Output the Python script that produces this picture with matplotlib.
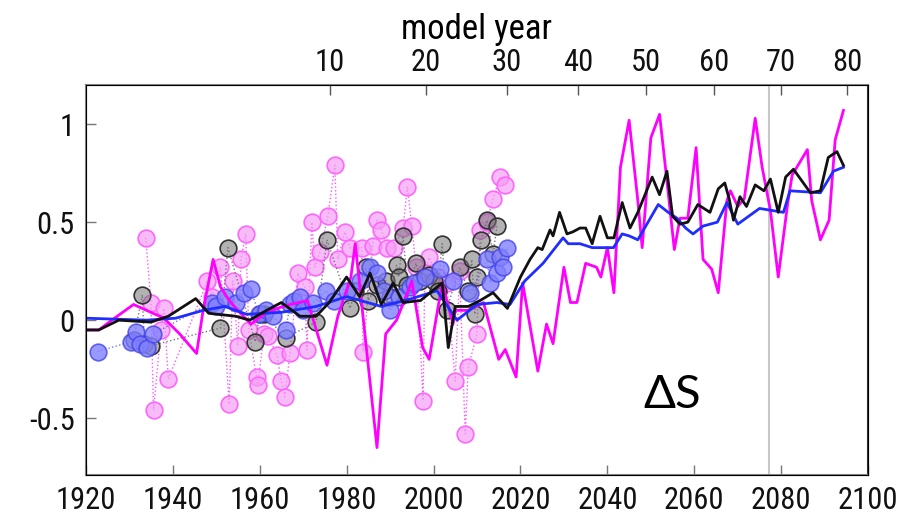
import numpy as np
import matplotlib
matplotlib.use('Agg')
import matplotlib.pyplot as plt
from matplotlib import font_manager

names = set(f.name for f in font_manager.fontManager.ttflist)
narrow = [n for n in ['Liberation Sans Narrow', 'DejaVu Sans Condensed', 'Roboto Condensed'] if n in names]
plt.rcParams['font.family'] = narrow + ['DejaVu Sans']
plt.rcParams['axes.unicode_minus'] = False

# model lines (calendar year, dS)
mag_yr = [1920, 1923, 1926, 1931, 1935, 1938, 1941.6, 1945.5, 1947, 1949.3, 1951, 1953, 1955,
          1958, 1961, 1964, 1967, 1969, 1971, 1975.5, 1978, 1981, 1982, 1987, 1989, 1991.5,
          1994, 1995, 1997.5, 1999, 2002, 2004.5, 2005, 2008, 2011.5, 2015, 2016.5, 2019,
          2020.5, 2024, 2026, 2027.5, 2030, 2031.5, 2033, 2035, 2037.5, 2038.5, 2040, 2041.5,
          2043, 2045, 2047, 2048, 2050, 2052, 2053.7, 2055.4, 2056.7, 2058.5, 2060.4, 2062,
          2064, 2065.5, 2067.5, 2068.3, 2070, 2071.5, 2074, 2075.6, 2077.5, 2079.3, 2081.5,
          2082.5, 2086, 2087, 2089, 2091, 2092.4, 2094.3]
mag_val = [-0.05, -0.05, 0.0, 0.08, 0.04, 0.01, -0.07, -0.17, 0.05, 0.31, 0.17, 0.1, 0.05,
           -0.02, 0.03, 0.06, 0.08, 0.09, 0.1, -0.23, 0.02, 0.22, 0.39, -0.65, -0.07, 0.0,
           0.14, 0.2, -0.14, -0.2, 0.19, -0.02, 0.05, 0.05, 0.09, -0.2, -0.15, -0.29,
           0.19, -0.26, -0.02, -0.12, 0.27, 0.09, 0.09, 0.29, 0.27, 0.22, 0.37, 0.14,
           0.78, 1.02, 0.61, 0.37, 0.93, 1.05, 0.71, 0.36, 0.52, 0.52, 0.88, 0.31,
           0.26, 0.14, 0.61, 0.66, 0.58, 0.62, 1.03, 0.78, 0.56, 0.22, 0.6,
           0.74, 0.87, 0.61, 0.41, 0.51, 0.92, 1.07]

blk_yr = [1920, 1923, 1927.6, 1935, 1939, 1945.3, 1948.3, 1954.5, 1957.7, 1961.6, 1965, 1969.3,
          1973, 1976, 1980, 1983, 1985.4, 1988, 1990.7, 1993, 1997, 2002, 2003.4, 2005, 2008,
          2010.7, 2013.7, 2017, 2020, 2022.2, 2024, 2025, 2026.8, 2027.5, 2029, 2030.7, 2032,
          2033.7, 2035, 2036.5, 2037, 2038.3, 2040, 2041.5, 2043.4, 2045.2, 2047, 2050.3, 2052,
          2053.7, 2055, 2056.7, 2058.5, 2060.8, 2063.6, 2065.5, 2067, 2068, 2069, 2070.5, 2072,
          2074, 2076, 2077.5, 2079.3, 2081, 2082.8, 2086.7, 2089, 2090.8, 2092.8, 2094.3]
blk_val = [-0.05, -0.05, 0.0, -0.01, 0.02, 0.11, 0.035, 0.02, 0.0, 0.05, 0.09, 0.02,
           0.02, 0.09, 0.22, 0.12, 0.24, 0.08, 0.19, 0.09, 0.1, 0.19, -0.14, 0.07, 0.07,
           0.1, 0.14, 0.06, 0.22, 0.31, 0.37, 0.36, 0.46, 0.43, 0.55, 0.44, 0.45,
           0.47, 0.47, 0.39, 0.43, 0.53, 0.42, 0.42, 0.6, 0.47, 0.55, 0.73, 0.64,
           0.76, 0.53, 0.49, 0.5, 0.59, 0.55, 0.67, 0.7, 0.62, 0.51, 0.63, 0.58,
           0.69, 0.66, 0.72, 0.55, 0.73, 0.77, 0.65, 0.66, 0.83, 0.86, 0.79]

blu_yr = [1920, 1934, 1940.7, 1947, 1952, 1957, 1965, 1973, 1980, 1988, 1995, 2000.8, 2005.4,
          2010, 2014.6, 2017.6, 2021, 2025.2, 2029.8, 2031, 2033.7, 2036.5, 2041.4, 2043.4,
          2045, 2047, 2051.7, 2054, 2056, 2058, 2059.7, 2062, 2065.3, 2067.5, 2070, 2075,
          2080.5, 2082, 2089, 2092, 2094.3]
blu_val = [0.01, 0.0, 0.01, 0.05, 0.07, 0.03, 0.04, 0.07, 0.12, 0.07, 0.11, 0.15, 0.0,
           0.08, 0.09, 0.08, 0.2, 0.29, 0.42, 0.39, 0.39, 0.37, 0.37, 0.44,
           0.43, 0.41, 0.59, 0.55, 0.52, 0.47, 0.44, 0.48, 0.5, 0.6, 0.49, 0.57,
           0.55, 0.66, 0.65, 0.76, 0.78]

# observation-like circles
pk_yr = [1933.8, 1935, 1935.6, 1937.3, 1938, 1939, 1948, 1949, 1951, 1953, 1953.8, 1955,
         1955.7, 1956.8, 1957.5, 1959.3, 1959.6, 1961, 1962, 1964, 1965, 1965.8, 1967,
         1968.8, 1970.4, 1970.9, 1972, 1972.7, 1973.9, 1975.7, 1977.3, 1978, 1979.6, 1980.8,
         1983.5, 1983.8, 1986, 1987, 1988, 1989.3, 1991, 1993, 1994, 1995, 1996, 1997.6,
         1998, 1999, 2001, 2003, 2005, 2006, 2007.3, 2008, 2010, 2010.7, 2012.3, 2013.7,
         2015.3, 2016.5]
pk_val = [0.42, 0.09, -0.46, -0.05, 0.06, -0.3, 0.2, 0.12, 0.27, -0.43, 0.2, -0.13,
          0.31, 0.44, -0.05, -0.29, -0.33, -0.07, -0.08, -0.18, -0.31, -0.39, -0.17,
          0.24, 0.17, -0.15, 0.5, 0.27, 0.35, 0.53, 0.79, 0.31, 0.45, 0.37,
          0.37, -0.16, 0.38, 0.51, 0.46, 0.37, 0.37, 0.47, 0.68, 0.48, 0.27, -0.41,
          0.24, 0.32, 0.22, 0.19, -0.31, 0.25, -0.58, -0.24, -0.07, 0.46, 0.5, 0.62,
          0.73, 0.69]

gr_yr = [1931, 1933, 1933.5, 1935, 1951, 1952.7, 1959, 1960, 1961, 1966, 1973, 1975.5, 1980.8,
         1982, 1984.5, 1985, 1987, 1989, 1990, 1991.5, 1992, 1993, 1994, 1996, 1997, 1999,
         2000, 2001, 2002, 2003, 2006, 2008, 2008.8, 2009.5, 2010, 2011, 2012.3, 2013.7,
         2014.6]
gr_val = [-0.1, 0.13, -0.12, -0.13, -0.04, 0.37, -0.11, 0.03, 0.03, -0.09, -0.01, 0.41, 0.06,
          0.15, 0.27, 0.1, 0.18, 0.2, 0.12, 0.28, 0.22, 0.43, 0.18, 0.29, 0.2, 0.23,
          0.2, 0.15, 0.39, 0.05, 0.27, 0.15, 0.31, 0.03, 0.22, 0.41, 0.51, 0.34,
          0.48]

bc_yr = [1922.8, 1930.4, 1931.5, 1932.5, 1934, 1935.5, 1949, 1950, 1952, 1954.5, 1956.4, 1958,
         1959.8, 1961.5, 1963, 1966, 1967, 1968, 1969.3, 1970, 1972.3, 1975.3, 1977, 1980,
         1983, 1985.4, 1987, 1988.5, 1990, 1992, 1994.6, 1995.5, 1998, 2001.5, 2004.5,
         2008.5, 2012.3, 2013, 2014.6, 2015.3, 2016, 2017]
bc_val = [-0.16, -0.11, -0.06, -0.12, -0.14, -0.07, 0.09, 0.07, 0.12, 0.09, 0.14, 0.16,
          0.03, 0.05, 0.02, -0.05, 0.08, 0.1, 0.12, 0.05, 0.09, 0.15, 0.1, 0.15,
          0.2, 0.27, 0.24, 0.15, 0.05, 0.12, 0.17, 0.19, 0.22, 0.26, 0.2,
          0.14, 0.31, 0.19, 0.24, 0.32, 0.27, 0.37]

xticks = [1920, 1940, 1960, 1980, 2000, 2020, 2040, 2060, 2080, 2100]
yticks = [-0.5, 0, 0.5, 1]
ylabels = ['-0.5', '0', '0.5', '1']
model_year = [10, 20, 30, 40, 50, 60, 70, 80]
model_year_pos = [1976.2, 1998.3, 2016.9, 2033.3, 2048.9, 2064.6, 2080, 2095.2]

fs = 22 if narrow else 17

fig = plt.figure(figsize=(9.12, 5.18), dpi=100)
ax = fig.add_axes([0.094, 0.083, 0.858, 0.753])

ax.axvline(2077.2, color='#c8c8c8', lw=1.5, zorder=1)

ax.plot(pk_yr, pk_val, ls=':', color='#ff55ff', lw=1, marker='o', ms=12,
        mfc=(0.96, 0.62, 0.96, 0.7), mec='#ff66ff', mew=1.2, zorder=2)
ax.plot(gr_yr, gr_val, ls=':', color='#777777', lw=1, marker='o', ms=12,
        mfc=(0.45, 0.45, 0.45, 0.55), mec='#333333', mew=1.2, zorder=3)
ax.plot(bc_yr, bc_val, ls=':', color='#5555ff', lw=1, marker='o', ms=12,
        mfc=(0.5, 0.5, 1.0, 0.35), mec='#4444ee', mew=1.2, alpha=0.8, zorder=4)

ax.plot(mag_yr, mag_val, color='#ff00ff', lw=2, zorder=5)
ax.plot(blu_yr, blu_val, color='#1f2eff', lw=2, zorder=6)
ax.plot(blk_yr, blk_val, color='#111111', lw=2, zorder=7)

ax.text(2055, -0.38, 'ΔS', fontsize=34, family=['Lato', 'DejaVu Sans'],
        ha='center', va='center', color='black')

ax.set_xlim(1920, 2100)
ax.set_ylim(-0.79, 1.2)
ax.set_xticks(xticks)
ax.set_xticklabels([str(t) for t in xticks])
ax.set_yticks(yticks)
ax.set_yticklabels(ylabels)
ax.tick_params(direction='in', length=7, width=1, colors='#777777', labelcolor='#111111',
               labelsize=fs, pad=8)
for s in ax.spines.values():
    s.set_color('#888888')
    s.set_linewidth(1.5)
ax.spines['right'].set_color('#333333')

ax2 = ax.twiny()
ax2.set_xlim(ax.get_xlim())
ax2.set_xticks(model_year_pos)
ax2.set_xticklabels([str(m) for m in model_year])
ax2.tick_params(direction='in', length=7, width=1, colors='#555555', labelcolor='#111111',
                labelsize=fs, pad=6)
ax2.set_xlabel('model year', fontsize=fs + 3, labelpad=6)

fig.savefig('out.png', dpi=100)
